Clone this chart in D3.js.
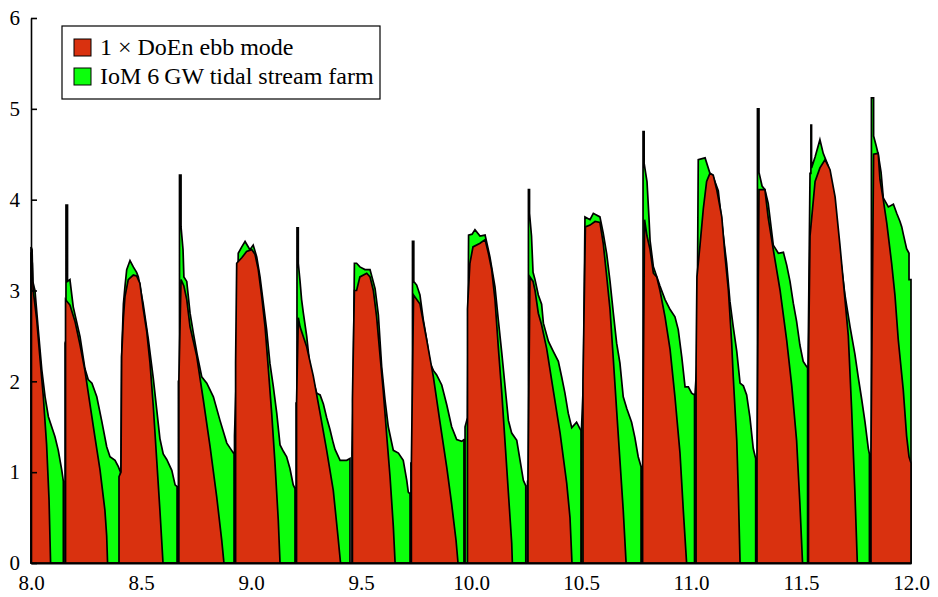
<!DOCTYPE html>
<html>
<head>
<meta charset="utf-8">
<script src="https://cdn.jsdelivr.net/npm/d3@7"></script>
<style>
  html, body { margin: 0; padding: 0; background: #fff; }
  svg { display: block; font-family: "Liberation Serif", "Times New Roman", serif; }
</style>
</head>
<body>
<div id="chart"></div>
<script>
// ── Datos: potencia (GW) frente al tiempo (días) ──────────────
const xTicks = [8.0, 8.5, 9.0, 9.5, 10.0, 10.5, 11.0, 11.5, 12.0];
const yTicks = [0, 1, 2, 3, 4, 5, 6];
const seriesNames  = ['1 \u00d7 DoEn ebb mode', 'IoM 6\u2009GW tidal stream farm'];
const seriesColors = ['#d9310f', '#0cff0c'];

// [día, GW]
const tidalFarm = [
  [8.000,0],[8.000,3.48],[8.005,3.45],[8.008,3.1],[8.018,3.0],[8.033,2.57],[8.049,2.13],[8.064,1.83],[8.079,1.61],[8.094,1.5],[8.109,1.39],[8.124,1.24],[8.140,1.02],[8.147,0.9],[8.147,0],
  [8.155,0],[8.155,2.42],[8.159,2.45],[8.159,3.94],[8.166,3.94],[8.166,3.1],[8.177,3.12],[8.192,2.82],[8.223,2.49],[8.245,2.14],[8.260,2.02],[8.277,1.98],[8.299,1.83],[8.321,1.57],[8.344,1.28],[8.359,1.17],[8.382,1.13],[8.397,1.06],[8.407,1.0],[8.407,0],
  [8.409,0],[8.409,1.02],[8.412,2.27],[8.420,2.85],[8.427,3.04],[8.435,3.23],[8.450,3.33],[8.465,3.26],[8.480,3.2],[8.488,3.15],[8.510,2.85],[8.533,2.47],[8.556,2.03],[8.571,1.7],[8.586,1.37],[8.601,1.2],[8.617,1.14],[8.640,1.02],[8.655,0.86],[8.664,0.84],[8.664,0],
  [8.670,0],[8.670,2.0],[8.675,2.0],[8.675,4.27],[8.682,4.27],[8.682,3.7],[8.691,3.45],[8.695,3.15],[8.708,3.1],[8.723,2.75],[8.738,2.53],[8.755,2.3],[8.776,2.05],[8.799,1.98],[8.829,1.83],[8.859,1.57],[8.890,1.32],[8.912,1.24],[8.923,1.2],[8.923,0],
  [8.925,0],[8.925,1.4],[8.935,2.2],[8.942,3.41],[8.958,3.48],[8.973,3.54],[8.995,3.45],[9.010,3.5],[9.026,3.37],[9.041,3.15],[9.056,2.86],[9.071,2.57],[9.086,2.2],[9.101,1.95],[9.117,1.65],[9.132,1.3],[9.147,1.23],[9.162,1.17],[9.177,1.04],[9.192,0.86],[9.200,0.82],[9.200,0],
  [9.205,0],[9.205,1.76],[9.209,1.76],[9.209,3.69],[9.215,3.69],[9.215,3.3],[9.223,3.1],[9.230,2.9],[9.238,2.75],[9.253,2.5],[9.268,2.16],[9.283,2.0],[9.299,1.87],[9.314,1.85],[9.329,1.75],[9.344,1.6],[9.359,1.47],[9.374,1.32],[9.382,1.25],[9.405,1.13],[9.435,1.13],[9.450,1.15],[9.450,0],
  [9.459,0],[9.459,1.2],[9.464,1.8],[9.470,3.3],[9.480,3.3],[9.495,3.26],[9.518,3.23],[9.541,3.23],[9.564,3.02],[9.579,2.73],[9.594,2.16],[9.609,1.8],[9.624,1.5],[9.647,1.24],[9.670,1.21],[9.692,1.13],[9.708,0.91],[9.715,0.78],[9.723,0.76],[9.723,0],
  [9.727,0],[9.727,1.1],[9.734,1.1],[9.734,3.54],[9.740,3.54],[9.740,3.1],[9.753,3.06],[9.768,2.95],[9.783,2.68],[9.799,2.45],[9.814,2.2],[9.829,2.12],[9.844,2.07],[9.867,1.96],[9.890,1.74],[9.912,1.5],[9.935,1.36],[9.958,1.34],[9.968,1.36],[9.968,0],
  [9.973,0],[9.973,1.5],[9.984,1.6],[9.989,3.61],[10.005,3.62],[10.018,3.67],[10.041,3.6],[10.064,3.61],[10.086,3.37],[10.109,3.04],[10.124,2.68],[10.140,2.31],[10.155,1.94],[10.170,1.57],[10.185,1.43],[10.208,1.35],[10.223,1.13],[10.238,0.91],[10.249,0.85],[10.249,0],
  [10.257,0],[10.257,0.9],[10.261,0.9],[10.261,4.11],[10.266,4.11],[10.266,3.85],[10.275,3.6],[10.282,3.2],[10.291,3.12],[10.306,2.95],[10.321,2.85],[10.329,2.64],[10.352,2.44],[10.374,2.33],[10.397,2.22],[10.412,2.05],[10.427,1.87],[10.442,1.65],[10.458,1.49],[10.480,1.55],[10.495,1.48],[10.500,1.46],[10.500,0],
  [10.502,0],[10.502,1.46],[10.511,2.0],[10.518,3.81],[10.541,3.78],[10.556,3.85],[10.586,3.81],[10.601,3.63],[10.617,3.4],[10.632,3.1],[10.647,2.75],[10.662,2.42],[10.677,2.2],[10.692,1.83],[10.708,1.7],[10.730,1.55],[10.745,1.38],[10.760,1.17],[10.773,1.06],[10.773,0],
  [10.777,0],[10.777,1.06],[10.782,1.06],[10.782,4.75],[10.787,4.75],[10.787,4.4],[10.800,4.2],[10.809,3.8],[10.814,3.55],[10.829,3.26],[10.859,3.05],[10.882,2.9],[10.905,2.79],[10.927,2.71],[10.942,2.57],[10.958,2.27],[10.973,1.94],[10.988,1.94],[11.003,1.87],[11.016,1.85],[11.016,0],
  [11.018,0],[11.018,1.85],[11.027,2.2],[11.033,4.44],[11.064,4.46],[11.086,4.29],[11.101,4.25],[11.124,4.1],[11.147,3.6],[11.162,3.3],[11.177,2.88],[11.192,2.6],[11.208,2.33],[11.223,1.98],[11.238,1.95],[11.253,1.85],[11.268,1.6],[11.283,1.26],[11.294,1.15],[11.294,0],
  [11.298,0],[11.298,1.15],[11.302,1.15],[11.302,5.0],[11.309,5.0],[11.309,4.3],[11.323,4.15],[11.336,4.11],[11.351,3.96],[11.374,3.5],[11.397,3.41],[11.420,3.42],[11.435,3.28],[11.450,3.1],[11.465,2.86],[11.480,2.66],[11.495,2.4],[11.510,2.22],[11.526,2.16],[11.530,2.15],[11.530,0],
  [11.532,0],[11.532,2.16],[11.536,3.1],[11.541,4.29],[11.545,4.29],[11.545,4.82],[11.548,4.82],[11.548,4.35],[11.564,4.47],[11.586,4.66],[11.601,4.51],[11.624,4.37],[11.640,4.11],[11.655,3.81],[11.677,3.4],[11.700,2.95],[11.723,2.6],[11.745,2.3],[11.760,2.05],[11.776,1.8],[11.791,1.55],[11.806,1.26],[11.811,1.2],[11.811,0],
  [11.816,0],[11.816,1.2],[11.820,1.2],[11.820,5.12],[11.830,5.12],[11.830,4.7],[11.841,4.6],[11.851,4.5],[11.864,4.3],[11.874,4.02],[11.897,3.92],[11.920,3.95],[11.935,3.85],[11.950,3.76],[11.958,3.7],[11.965,3.62],[11.980,3.46],[11.991,3.41],[11.991,3.12],[12.000,3.12],[12.000,0]
];

const ebbMode = [
  [8.000,0],[8.000,3.42],[8.006,3.3],[8.010,3.0],[8.026,2.68],[8.041,2.25],[8.056,1.83],[8.071,1.3],[8.082,0.7],[8.089,0],
  [8.157,0],[8.157,2.9],[8.177,2.84],[8.200,2.66],[8.223,2.4],[8.245,2.12],[8.268,1.75],[8.291,1.38],[8.314,1.02],[8.336,0.58],[8.344,0.3],[8.348,0],
  [8.400,0],[8.400,0.95],[8.409,1.0],[8.412,2.27],[8.420,2.7],[8.427,2.93],[8.442,3.12],[8.465,3.17],[8.480,3.16],[8.495,3.08],[8.510,2.8],[8.526,2.55],[8.541,2.2],[8.556,1.72],[8.571,1.15],[8.586,0.58],[8.600,0],
  [8.672,0],[8.672,2.0],[8.682,3.12],[8.695,3.05],[8.708,2.9],[8.723,2.6],[8.753,2.28],[8.783,1.8],[8.814,1.28],[8.844,0.73],[8.867,0.25],[8.877,0],
  [8.930,0],[8.930,2.2],[8.935,3.3],[8.958,3.36],[8.980,3.43],[9.003,3.45],[9.018,3.4],[9.033,3.23],[9.049,2.93],[9.064,2.6],[9.079,2.13],[9.094,1.65],[9.109,1.1],[9.124,0.47],[9.132,0],
  [9.207,0],[9.207,1.76],[9.215,2.7],[9.223,2.6],[9.253,2.38],[9.283,2.06],[9.314,1.65],[9.344,1.24],[9.374,0.8],[9.395,0.3],[9.407,0],
  [9.461,0],[9.461,1.8],[9.470,3.0],[9.480,3.0],[9.495,3.15],[9.526,3.19],[9.541,3.15],[9.556,3.0],[9.571,2.71],[9.586,2.3],[9.601,1.9],[9.617,1.4],[9.632,0.95],[9.647,0.4],[9.655,0],
  [9.729,0],[9.729,1.1],[9.739,2.95],[9.768,2.85],[9.799,2.45],[9.829,2.05],[9.859,1.55],[9.890,1.05],[9.912,0.65],[9.932,0.25],[9.941,0],
  [9.984,0],[9.984,2.8],[9.995,3.3],[10.009,3.48],[10.041,3.52],[10.064,3.56],[10.079,3.41],[10.094,3.23],[10.109,2.9],[10.124,2.38],[10.140,1.87],[10.155,1.32],[10.170,0.77],[10.185,0.22],[10.188,0],
  [10.259,0],[10.259,0.9],[10.268,3.15],[10.282,3.1],[10.291,3.0],[10.306,2.75],[10.321,2.62],[10.344,2.36],[10.374,1.9],[10.405,1.43],[10.435,0.88],[10.450,0.5],[10.459,0],
  [10.509,0],[10.509,2.0],[10.520,3.7],[10.541,3.72],[10.564,3.76],[10.586,3.75],[10.601,3.52],[10.617,3.15],[10.632,2.79],[10.647,2.24],[10.662,1.68],[10.677,1.13],[10.692,0.58],[10.705,0],
  [10.780,0],[10.780,1.06],[10.789,3.78],[10.800,3.6],[10.814,3.45],[10.829,3.19],[10.844,3.15],[10.859,3.0],[10.882,2.71],[10.905,2.35],[10.927,1.83],[10.950,1.21],[10.965,0.58],[10.980,0],
  [11.023,0],[11.023,2.2],[11.027,3.15],[11.041,3.5],[11.056,3.9],[11.071,4.2],[11.086,4.29],[11.101,4.27],[11.117,4.11],[11.140,3.81],[11.155,3.37],[11.170,3.0],[11.185,2.42],[11.192,2.05],[11.208,1.35],[11.215,0.8],[11.223,0],
  [11.300,0],[11.300,1.15],[11.309,4.11],[11.336,4.11],[11.351,3.8],[11.374,3.45],[11.405,3.0],[11.435,2.45],[11.458,1.95],[11.480,1.35],[11.495,0.65],[11.507,0],
  [11.534,0],[11.534,2.2],[11.541,3.6],[11.564,4.2],[11.586,4.35],[11.609,4.44],[11.632,4.33],[11.655,4.03],[11.677,3.5],[11.700,2.9],[11.715,2.5],[11.730,1.7],[11.745,0.78],[11.756,0],
  [11.818,0],[11.818,1.2],[11.830,4.5],[11.851,4.51],[11.859,4.22],[11.874,4.0],[11.890,3.74],[11.912,3.3],[11.927,2.95],[11.942,2.46],[11.965,1.9],[11.980,1.4],[11.991,1.17],[12.000,1.1],[12.000,0]
];

// ── Lienzo y escalas ─────────────────────────────────────────
const W = 938, H = 597;
const svg = d3.select('#chart').append('svg')
  .attr('width', W).attr('height', H);

const x = d3.scaleLinear().domain([8, 12]).range([31, 911]);
const y = d3.scaleLinear().domain([0, 6]).range([563, 18]);

const area = d3.area()
  .x(d => x(d[0]))
  .y0(y(0))
  .y1(d => y(d[1]));

// Granja (verde) detrás, DoEn (rojo) delante, ambos con borde negro
[tidalFarm, ebbMode].forEach((series, i) => {
  svg.append('path')
    .datum(series)
    .attr('d', area)
    .attr('fill', seriesColors[1 - i])
    .attr('stroke', '#000')
    .attr('stroke-width', 1.7)
    .attr('stroke-linejoin', 'miter');
});

// ── Ejes ─────────────────────────────────────────────────────
const yAxis = svg.append('g')
  .attr('transform', `translate(${x(8)},0)`)
  .call(d3.axisLeft(y).tickValues(yTicks).tickFormat(d3.format('d'))
    .tickSizeInner(-6).tickSizeOuter(0).tickPadding(11));

const xAxis = svg.append('g')
  .attr('transform', `translate(0,${y(0)})`)
  .call(d3.axisBottom(x).tickValues(xTicks).tickSize(0).tickPadding(12).tickFormat(d3.format('.1f')));

[yAxis, xAxis].forEach(g => {
  g.selectAll('text')
    .style('font-family', '"Liberation Serif", "Times New Roman", serif')
    .style('font-size', '21px')
    .attr('fill', '#000');
  g.selectAll('line').attr('stroke', '#000').attr('stroke-width', 1.6);
});
yAxis.select('.domain').attr('stroke', '#000').attr('stroke-width', 1.6);
xAxis.select('.domain').attr('stroke', '#000').attr('stroke-width', 2.2);

// ── Leyenda ──────────────────────────────────────────────────
const legend = svg.append('g').attr('transform', 'translate(62,26)');
legend.append('rect')
  .attr('width', 318).attr('height', 73)
  .attr('fill', '#fff').attr('stroke', '#000').attr('stroke-width', 1.2);

seriesNames.forEach((name, i) => {
  const row = legend.append('g').attr('transform', `translate(12,${13 + i * 29})`);
  row.append('rect')
    .attr('width', 17).attr('height', 17)
    .attr('fill', seriesColors[i])
    .attr('stroke', '#000').attr('stroke-width', 1);
  row.append('text')
    .attr('x', 26).attr('y', 16)
    .style('font-size', '24px')
    .attr('fill', '#000')
    .text(name);
});
</script>
</body>
</html>
